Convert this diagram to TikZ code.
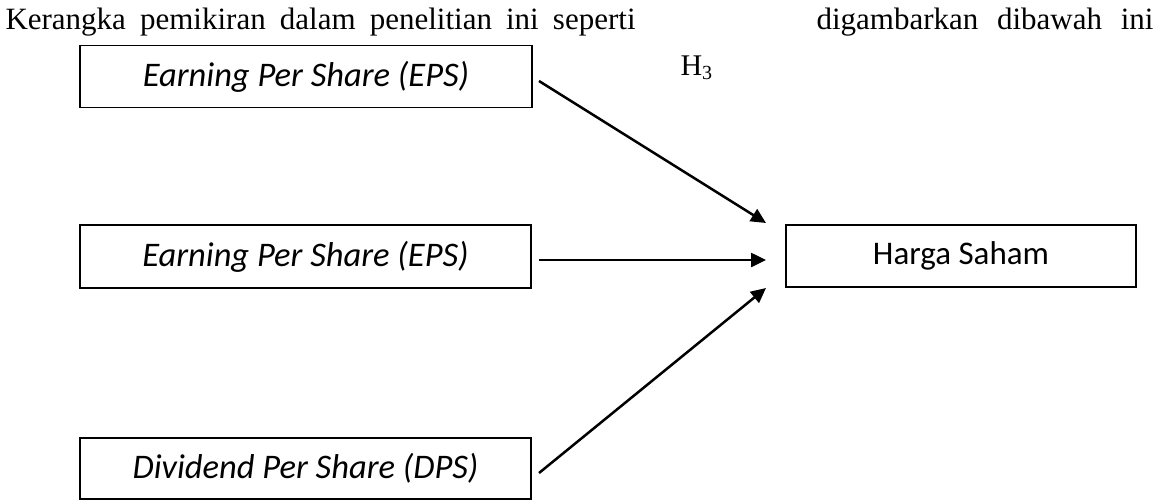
\documentclass[tikz,border=0pt]{standalone}
\usepackage{fontspec}
\setmainfont{Liberation Serif}
\newfontfamily\boxfont{Carlito}
\usetikzlibrary{arrows.meta}
\begin{document}
\begin{tikzpicture}[x=0.4pt,y=-0.4pt,
  varbox/.style={draw, line width=0.6pt, inner sep=0pt,
    font=\boxfont\fontsize{13.2}{16}\selectfont},
  vartext/.style={font=\boxfont\itshape\fontsize{13.8}{16}\selectfont},
  link/.style={line width=1pt, -{Triangle[length=6pt,width=5.6pt]}},
  headtext/.style={anchor=base west, inner sep=0pt,
    font=\fontsize{12.4}{15}\selectfont},
  ]
\useasboundingbox (0,0) rectangle (1158,500);

% introductory sentence (justified line)
\node[headtext] (hd1) at (5,29)
  {\hbox to 252pt{Kerangka\hfill pemikiran\hfill dalam\hfill penelitian\hfill ini\hfill seperti}};
\node[headtext] (hd2) at (816,29)
  {\hbox to 134.8pt{digambarkan\hfill dibawah\hfill ini}};

% hypothesis label
\node[anchor=base west, inner sep=0pt, font=\fontsize{12}{14}\selectfont]
  (h3) at (680,75) {H\textsubscript{3}};

% variables
\node[varbox, vartext, minimum width=180.8pt, minimum height=24.8pt] (eps1) at (306,76.5)
  {Earning Per Share (EPS)};
\node[varbox, vartext, minimum width=180.4pt, minimum height=25.2pt] (eps2) at (305.5,256.5)
  {Earning Per Share (EPS)};
\node[varbox, vartext, minimum width=180.4pt, minimum height=24.4pt] (dps) at (305.5,468.5)
  {Dividend Per Share (DPS)};
\node[varbox, minimum width=140pt, minimum height=24.8pt] (harga) at (961,256)
  {Harga Saham};

% arrow end points
\coordinate (a1s) at (539,81);
\coordinate (a1e) at (766,223);
\coordinate (a2s) at (539,260);
\coordinate (a2e) at (766,260);
\coordinate (a3s) at (539,473);
\coordinate (a3e) at (766,288);

\draw[link] (a1s) -- (a1e);
\draw[link] (a2s) -- (a2e);
\draw[link] (a3s) -- (a3e);
\end{tikzpicture}
\end{document}
